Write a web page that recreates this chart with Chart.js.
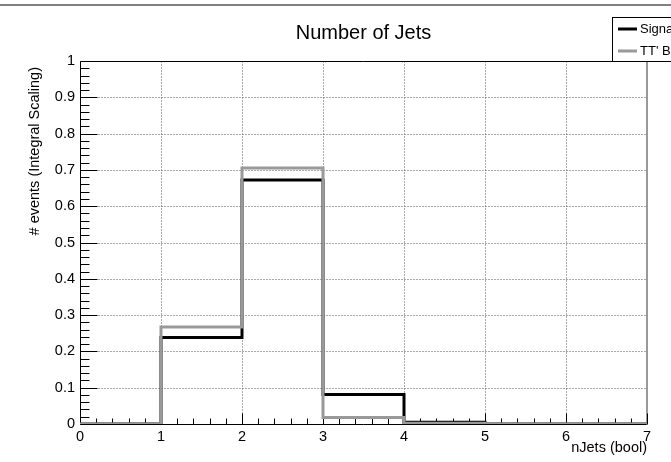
<!DOCTYPE html>
<html>
<head>
<meta charset="utf-8">
<title>Number of Jets</title>
<script src="https://cdn.jsdelivr.net/npm/chart.js@4.4.1/dist/chart.umd.min.js"></script>
<style>
  html, body { margin: 0; padding: 0; background: #ffffff; }
  #wrap { width: 671px; height: 462px; position: relative; }
</style>
</head>
<body>
<div id="wrap"><canvas id="c" width="671" height="462"></canvas></div>
<script>
// Histogram bin edges (nJets) and normalised contents per bin
const binEdges = [0, 1, 2, 3, 4, 5, 6, 7];
const signalValues = [0, 0.238, 0.672, 0.081, 0.005, 0, 0];
const ttBackgroundValues = [0, 0.267, 0.705, 0.018, 0.002, 0, 0];

// Axis tick labels
const xTickLabels = ['0', '1', '2', '3', '4', '5', '6', '7'];
const yTickLabels = ['0', '0.1', '0.2', '0.3', '0.4', '0.5', '0.6', '0.7', '0.8', '0.9', '1'];

const seriesNames = ['Signal', "TT' Background"];

const FONT = '"Liberation Sans", Arial, Helvetica, sans-serif';

// Turn bin contents into step points: one point at each bin's low edge,
// plus a closing point at the last upper edge.
function histPoints(values) {
  const pts = values.map((v, i) => ({ x: binEdges[i], y: v }));
  pts.push({ x: binEdges[values.length], y: values[values.length - 1] });
  return pts;
}

// ROOT-like frame: dotted grid, axis lines, major/minor ticks, titles, legend
const rootFrame = {
  id: 'rootFrame',
  beforeDraw(chart) {
    const ctx = chart.ctx;
    ctx.save();
    ctx.fillStyle = '#ffffff';
    ctx.fillRect(0, 0, chart.width, chart.height);
    ctx.restore();
  },
  beforeDatasetsDraw(chart) {
    const { ctx, chartArea: a, scales: { x, y } } = chart;
    const L = a.left + 0.5, R = a.right, T = a.top + 0.5, B = a.bottom + 0.5;
    ctx.save();

    // dotted grid at every major tick
    ctx.strokeStyle = '#555555';
    ctx.lineWidth = 1;
    ctx.setLineDash([1, 2]);
    x.ticks.forEach(t => {
      const px = Math.round(x.getPixelForValue(t.value)) + 0.5;
      if (t.value <= x.min || t.value >= x.max) return;
      ctx.beginPath(); ctx.moveTo(px, T); ctx.lineTo(px, B); ctx.stroke();
    });
    y.ticks.forEach(t => {
      const py = Math.round(y.getPixelForValue(t.value)) + 0.5;
      if (t.value <= y.min || t.value >= y.max) return;
      ctx.beginPath(); ctx.moveTo(L, py); ctx.lineTo(R, py); ctx.stroke();
    });
    ctx.setLineDash([]);

    // frame
    ctx.strokeStyle = '#000000';
    ctx.lineWidth = 1;
    ctx.beginPath();
    ctx.moveTo(L, B); ctx.lineTo(L, T); ctx.lineTo(R, T);
    ctx.moveTo(L, B); ctx.lineTo(R, B);
    ctx.stroke();
    ctx.strokeStyle = '#999999';
    ctx.lineWidth = 2;
    ctx.beginPath(); ctx.moveTo(R, T); ctx.lineTo(R, B); ctx.stroke();

    // y ticks: major every 0.1, minor every 0.02 (drawn inward)
    ctx.strokeStyle = '#000000';
    ctx.lineWidth = 1;
    const yMajorLen = 17, yMinorLen = 9;
    for (let k = 0; k <= 50; k++) {
      const v = k * 0.02;
      const py = Math.round(y.getPixelForValue(v)) + 0.5;
      const len = (k % 5 === 0) ? yMajorLen : yMinorLen;
      ctx.beginPath(); ctx.moveTo(L, py); ctx.lineTo(L + len, py); ctx.stroke();
    }
    // x ticks: major every 1, minor every 0.2 (drawn upward)
    const xMajorLen = 11, xMinorLen = 6;
    for (let k = 0; k <= 35; k++) {
      const v = k * 0.2;
      const px = Math.round(x.getPixelForValue(v)) + 0.5;
      const len = (k % 5 === 0) ? xMajorLen : xMinorLen;
      ctx.beginPath(); ctx.moveTo(px, B); ctx.lineTo(px, B - len); ctx.stroke();
    }
    ctx.restore();
  },
  afterDraw(chart) {
    const { ctx, chartArea: a } = chart;
    ctx.save();

    // thin rule along the top edge of the canvas
    ctx.strokeStyle = '#808080';
    ctx.lineWidth = 2;
    ctx.beginPath(); ctx.moveTo(0, 5); ctx.lineTo(chart.width, 5); ctx.stroke();

    ctx.fillStyle = '#000000';
    // title
    ctx.font = '20px ' + FONT;
    ctx.textAlign = 'center';
    ctx.textBaseline = 'alphabetic';
    ctx.fillText('Number of Jets', (a.left + a.right) / 2, 39);

    // x-axis title, right aligned to the frame
    ctx.font = '14.5px ' + FONT;
    ctx.textAlign = 'right';
    ctx.fillText('nJets (bool)', a.right, 452);

    // y-axis title, rotated, aligned to the top of the frame
    ctx.save();
    ctx.translate(35, a.top + 6);
    ctx.rotate(-Math.PI / 2);
    ctx.textAlign = 'right';
    ctx.textBaseline = 'middle';
    ctx.fillText('# events (Integral Scaling)', 0, 0);
    ctx.restore();

    // legend box
    const lx = 612.5, ly = 17.5, lw = 80, lh = 44;
    ctx.fillStyle = '#ffffff';
    ctx.fillRect(lx, ly, lw, lh);
    ctx.strokeStyle = '#000000';
    ctx.lineWidth = 1;
    ctx.strokeRect(lx, ly, lw, lh);
    const ds = chart.data.datasets;
    const rows = [ds[0], ds[1]];
    const rowY = [29, 51];
    ctx.font = '13px ' + FONT;
    ctx.textAlign = 'left';
    ctx.textBaseline = 'middle';
    rows.forEach((d, i) => {
      ctx.strokeStyle = d.borderColor;
      ctx.lineWidth = 3;
      ctx.beginPath(); ctx.moveTo(618, rowY[i]); ctx.lineTo(637, rowY[i]); ctx.stroke();
      ctx.fillStyle = '#000000';
      ctx.fillText(d.label, 640, rowY[i] + 0.5);
    });
    ctx.restore();
  }
};

new Chart(document.getElementById('c'), {
  type: 'line',
  data: {
    datasets: [
      {
        label: seriesNames[0],
        data: histPoints(signalValues),
        borderColor: '#000000',
        borderWidth: 3,
        stepped: 'before',
        pointRadius: 0,
        fill: false,
        order: 2,
        borderJoinStyle: 'miter',
        borderCapStyle: 'butt'
      },
      {
        label: seriesNames[1],
        data: histPoints(ttBackgroundValues),
        borderColor: '#999999',
        borderWidth: 3,
        stepped: 'before',
        pointRadius: 0,
        fill: false,
        order: 1,
        borderJoinStyle: 'miter',
        borderCapStyle: 'butt'
      }
    ]
  },
  options: {
    responsive: false,
    animation: false,
    layout: { padding: { top: 61, right: 24, left: 0, bottom: 0 } },
    plugins: {
      legend: { display: false },
      title: { display: false },
      tooltip: { enabled: false }
    },
    scales: {
      x: {
        type: 'linear',
        min: 0,
        max: 7,
        grid: { display: false, drawTicks: false },
        border: { display: false },
        afterFit(s) { s.height = 38; },
        ticks: {
          stepSize: 1,
          padding: 4,
          maxRotation: 0,
          color: '#000000',
          font: { family: FONT, size: 14.5 },
          callback: (v, i) => xTickLabels[i]
        }
      },
      y: {
        type: 'linear',
        min: 0,
        max: 1,
        grid: { display: false, drawTicks: false },
        border: { display: false },
        afterFit(s) { s.width = 80; },
        ticks: {
          stepSize: 0.1,
          padding: 5,
          color: '#000000',
          font: { family: FONT, size: 14.5 },
          callback: (v, i) => yTickLabels[i]
        }
      }
    }
  },
  plugins: [rootFrame]
});
</script>
</body>
</html>
